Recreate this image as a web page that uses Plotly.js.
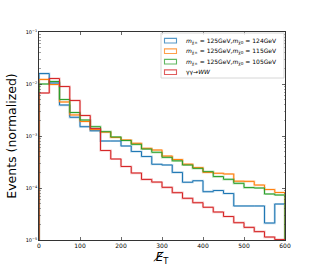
<!DOCTYPE html>
<html><head><meta charset="utf-8">
<script src="https://cdn.plot.ly/plotly-3.0.1.min.js"></script>
<style>html,body{margin:0;padding:0;background:#fff}</style>
</head><body><div id="chart" style="width:315px;height:270px"></div>
<script>
// MET bin edges (GeV)
const binEdges = [0,25,50,75,100,125,150,175,200,225,250,275,300,325,350,375,400,425,450,475,500,525,550,575,600];
const seriesNames = [
  "<i>m</i><sub>χ̃±</sub> = 125GeV,<i>m</i><sub>χ̃0</sub> = 124GeV",
  "<i>m</i><sub>χ̃±</sub> = 125GeV,<i>m</i><sub>χ̃0</sub> = 115GeV",
  "<i>m</i><sub>χ̃±</sub> = 125GeV,<i>m</i><sub>χ̃0</sub> = 105GeV",
  "γγ→<i>WW</i>"
];
const m124 = [0.0159,0.01045,0.00394,0.00229,0.00151,0.00126,0.000801,0.000801,0.000642,0.000503,0.000403,0.000286,0.000277,0.000199,0.000129,0.000138,0.0000849,0.0000895,0.0000784,0.0000451,0.0000451,0.0000451,0.0000212,0.0000492];
const m115 = [0.01222,0.00978,0.00451,0.00254,0.00190,0.00133,0.00119,0.000935,0.000838,0.000724,0.000580,0.000538,0.000412,0.000353,0.000287,0.000246,0.000200,0.000192,0.000186,0.000135,0.000134,0.000114,0.0000935,0.0000819];
const m105 = [0.0100,0.01117,0.00503,0.00283,0.00203,0.00151,0.00121,0.000957,0.000819,0.000692,0.000562,0.000486,0.000389,0.000333,0.000277,0.000239,0.000206,0.000166,0.000147,0.000123,0.000102,0.000100,0.0000767,0.0000733];
const ggWW = [0.00671,0.01276,0.00895,0.00482,0.00248,0.00139,0.000526,0.000361,0.000259,0.000194,0.000146,0.000130,0.000103,0.0000813,0.0000634,0.0000521,0.0000426,0.0000345,0.0000283,0.0000215,0.0000175,0.0000145,0.0000114,0.0000102];
const yTickVals = [1e-5,1e-4,1e-3,1e-2,1e-1];
const yTickText = ["10<sup>−5</sup>","10<sup>−4</sup>","10<sup>−3</sup>","10<sup>−2</sup>","10<sup>−1</sup>"];
const xTickVals = [0,100,200,300,400,500,600];

const colors = ["#1f77b4","#ff7f0e","#2ca02c","#d62728"];
const shadow = ["rgba(31,119,180,0.3)","rgba(255,127,14,0.3)","rgba(44,160,44,0.3)","rgba(214,39,40,0.3)"];
const patchLine = ["rgba(31,119,180,0.75)","rgba(255,127,14,0.75)","rgba(44,160,44,0.75)","rgba(214,39,40,0.75)"];
const FLOOR = 1e-7;

function stepXY(vals){
  const n = vals.length;
  const x = [binEdges[0]];
  const y = [FLOOR];
  for(let i=0;i<n;i++){ x.push(binEdges[i]); y.push(vals[i]); }
  x.push(binEdges[n]); y.push(vals[n-1]);
  x.push(binEdges[n]); y.push(FLOOR);
  return {x,y};
}

const all = [m124,m115,m105,ggWW];
const traces = [];
all.forEach((v,i)=>{
  const s = stepXY(v);
  traces.push({x:s.x,y:s.y,mode:'lines',line:{shape:'hv',color:shadow[i],width:2.2},showlegend:false,hoverinfo:'skip'});
});
all.forEach((v,i)=>{
  const s = stepXY(v);
  traces.push({x:s.x,y:s.y,mode:'lines',name:seriesNames[i],line:{shape:'hv',color:colors[i],width:1},showlegend:false});
});

// custom compact legend (matplotlib style), in plot-area paper coords
const W = 246, H = 208, L = 39, B = 240;
const px = x => (x - L) / W;
const py = y => (B - y) / H;
const shapes = [{type:'rect',xref:'paper',yref:'paper',x0:px(161),x1:px(284),y0:py(78),y1:py(33),
  line:{color:'#cccccc',width:0.8},fillcolor:'rgba(255,255,255,0.85)',layer:'above'}];
const annotations = [];
const rowY = [40.7,51.2,61.7,72.2];
seriesNames.forEach((name,i)=>{
  shapes.push({type:'rect',xref:'paper',yref:'paper',x0:px(164.5),x1:px(176.5),y0:py(rowY[i]+2.3),y1:py(rowY[i]-2.3),
    line:{color:patchLine[i],width:1.1},fillcolor:'rgba(255,255,255,0)',layer:'above'});
  annotations.push({xref:'paper',yref:'paper',x:px(184),y:py(rowY[i]),xanchor:'left',yanchor:'middle',
    text:name,showarrow:false,font:{size:6,color:'#000'}});
});

const layout = {
  width:315,height:270,
  margin:{l:39,r:30,t:32,b:30},
  paper_bgcolor:'#fff',plot_bgcolor:'#fff',
  font:{family:'DejaVu Sans',color:'#000',size:6},
  showlegend:false,
  shapes:shapes, annotations:annotations,
  xaxis:{range:[0,600],tickvals:xTickVals,ticks:'inside',ticklen:3,tickwidth:0.8,showgrid:false,zeroline:false,showline:true,linecolor:'#000',linewidth:0.8,mirror:'ticks',
    tickfont:{size:6},title:{text:'<i>E̸</i><sub>T</sub>',font:{size:12},standoff:4}},
  yaxis:{type:'log',range:[-5,-1],tickvals:yTickVals,ticktext:yTickText,ticks:'inside',ticklen:3,tickwidth:0.8,showgrid:false,zeroline:false,showline:true,linecolor:'#000',linewidth:0.8,mirror:'ticks',
    minor:{ticks:'inside',ticklen:1.5,tickwidth:0.5,dtick:'D1',showgrid:false},
    tickfont:{size:5},title:{text:'Events (normalized)',font:{size:12.5},standoff:6}}
};
Plotly.newPlot('chart',traces,layout,{displayModeBar:false,staticPlot:true});
</script>
</body></html>
